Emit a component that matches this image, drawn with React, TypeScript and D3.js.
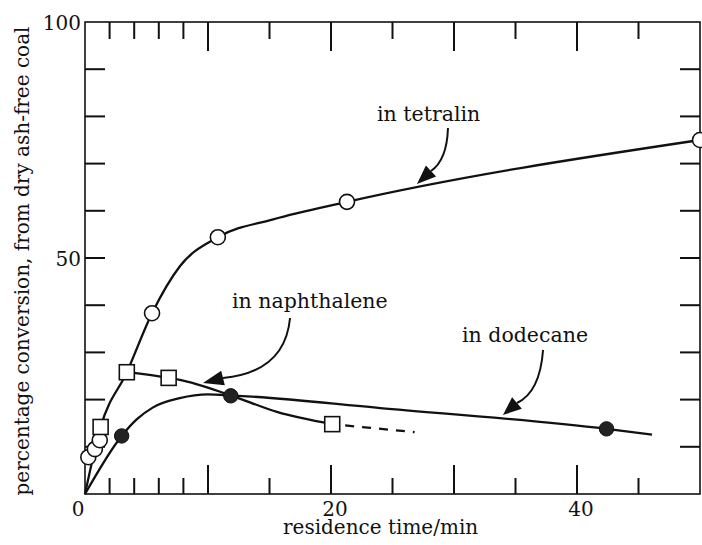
import React from 'react';
import * as d3 from 'd3';

// measured points (residence time / min, % conversion)
const tetralin = [[0.27, 7.8], [0.8, 9.5], [1.2, 11.4], [5.45, 38.3], [10.8, 54.4], [21.3, 61.9], [50, 75]];
const naphthalene = [[1.27, 14.2], [3.4, 25.8], [6.8, 24.6], [20.1, 14.8]];
const dodecane = [[2.98, 12.3], [11.85, 20.8], [42.4, 13.8]];

// hand drawn curves through the points
const tetralinCurve = [[0, 0], [1.27, 14.2], [3.4, 25.8], [5.45, 38.3], [7.7, 48.2], [10.8, 54.4], [15.3, 58.2], [21.3, 61.9], [50, 75]];
const naphthaleneCurve = [[3.4, 25.8], [6.8, 24.6], [7.7, 24.2], [11.85, 20.9], [15.6, 17.4], [20.1, 14.8]];
const naphthaleneDashed = [[20.1, 14.8], [26.8, 13.1]];
const dodecaneCurve = [[0, 0], [2.98, 12.3], [4.2, 15.8], [5.5, 18.3], [7.7, 20.3], [10, 21.1], [11.85, 20.9], [24, 18.2], [42.4, 13.8], [46.1, 12.6]];

// ticks
const xMajor = [10, 20, 30, 40];
const xMinor = [2, 4, 6, 8, 15, 25, 35, 45];
const xLabels = [0, 20, 40];
const yTicks = [10, 20, 30, 40, 50, 60, 70, 80, 90];
const yLabels = [50, 100];

// labels + arrows: label x / baseline, arrow start, control, end of shaft, tip
const notes = [
  { text: 'in tetralin', at: [23.74, 79.0], start: [29.51, 77.54], ctrl: [29.43, 70.76], end: [28.13, 68.43], tip: [26.99, 65.68] },
  { text: 'in naphthalene', at: [11.95, 39.4], start: [16.67, 37.29], ctrl: [16.26, 25.85], end: [11.22, 24.58], tip: [9.59, 23.52] },
  { text: 'in dodecane', at: [30.65, 32.2], start: [37.24, 30.51], ctrl: [36.99, 21.61], end: [35.12, 19.28], tip: [33.98, 16.74] },
];

const W = 702;
const H = 545;
const font = '"DejaVu Serif", serif';

export default function App() {
  const x = d3.scaleLinear().domain([0, 50]).range([85, 700]);
  const y = d3.scaleLinear().domain([0, 100]).range([494, 22]);
  const [x0, x1] = x.range();
  const [y0, y1] = y.range();

  const line = d3.line<number[]>()
    .x(d => x(d[0]))
    .y(d => y(d[1]))
    .curve(d3.curveMonotoneX);

  // arrowhead triangle from end of shaft to tip
  const head = (n: any) => {
    const ex = x(n.end[0]), ey = y(n.end[1]);
    const tx = x(n.tip[0]), ty = y(n.tip[1]);
    const dx = tx - ex, dy = ty - ey;
    const len = Math.hypot(dx, dy);
    const px = -dy / len * 7.5, py = dx / len * 7.5;
    return `${tx},${ty} ${ex + px},${ey + py} ${ex - px},${ey - py}`;
  };

  return (
    <svg width={W} height={H} style={{ position: 'absolute', left: 0, top: 0, background: '#fff' }}
      fontFamily={font} fill="#111">
      <rect x={0} y={0} width={W} height={H} fill="#fff" />

      {/* frame */}
      <rect x={x0} y={y1} width={x1 - x0} height={y0 - y1} fill="none" stroke="#111" strokeWidth={1.6} />

      {/* ticks on all four sides, pointing inward */}
      <g stroke="#111" strokeWidth={2}>
        {xMajor.map(t => (
          <g key={'M' + t}>
            <line x1={x(t)} x2={x(t)} y1={y0} y2={y0 - 29} />
            <line x1={x(t)} x2={x(t)} y1={y1} y2={y1 + 29} />
          </g>
        ))}
        {xMinor.map(t => (
          <g key={'m' + t}>
            <line x1={x(t)} x2={x(t)} y1={y0} y2={y0 - 16} />
            <line x1={x(t)} x2={x(t)} y1={y1} y2={y1 + 17} />
          </g>
        ))}
        {yTicks.map(t => (
          <g key={'y' + t}>
            <line x1={x0} x2={x0 + 20} y1={y(t)} y2={y(t)} />
            <line x1={x1} x2={x1 - 20} y1={y(t)} y2={y(t)} />
          </g>
        ))}
      </g>

      {/* tick labels */}
      <g fontSize={20}>
        {xLabels.map(t => (
          <text key={'xl' + t} x={t === 0 ? x(t) - 7 : x(t) + 4} y={516} textAnchor="middle">{t}</text>
        ))}
        {yLabels.map(t => (
          <text key={'yl' + t} x={x0 - 4} y={y(t) + 8} textAnchor="end">{t}</text>
        ))}
      </g>

      {/* axis titles */}
      <text x={283} y={534} fontSize={20}>residence time/min</text>
      <text transform="translate(29,261) rotate(-90)" textAnchor="middle" fontSize={20}>
        percentage conversion, from dry ash-free coal
      </text>

      {/* curves */}
      <g fill="none" stroke="#111" strokeWidth={2.3}>
        <path d={line(tetralinCurve) || ''} />
        <path d={line(naphthaleneCurve) || ''} />
        <path d={line(dodecaneCurve) || ''} />
        <path d={d3.line<number[]>().x(d => x(d[0])).y(d => y(d[1]))(naphthaleneDashed) || ''}
          strokeDasharray="9 8" strokeDashoffset={-13} />
      </g>

      {/* points */}
      {tetralin.map((d, i) => (
        <circle key={'t' + i} cx={x(d[0])} cy={y(d[1])} r={7.5} fill="#fff" stroke="#111" strokeWidth={1.6} />
      ))}
      {naphthalene.map((d, i) => (
        <rect key={'n' + i} x={x(d[0]) - 7.5} y={y(d[1]) - 7.5} width={15} height={15}
          fill="#fff" stroke="#111" strokeWidth={1.6} />
      ))}
      {dodecane.map((d, i) => (
        <circle key={'d' + i} cx={x(d[0])} cy={y(d[1])} r={7.2} fill="#222" stroke="#111" strokeWidth={1} />
      ))}

      {/* labels with curved arrows */}
      {notes.map(n => (
        <g key={n.text}>
          <text x={x(n.at[0])} y={y(n.at[1])} fontSize={20.5}>{n.text}</text>
          <path d={`M${x(n.start[0])},${y(n.start[1])} Q${x(n.ctrl[0])},${y(n.ctrl[1])} ${x(n.end[0])},${y(n.end[1])}`}
            fill="none" stroke="#111" strokeWidth={2} />
          <polygon points={head(n)} fill="#111" />
        </g>
      ))}
    </svg>
  );
}
